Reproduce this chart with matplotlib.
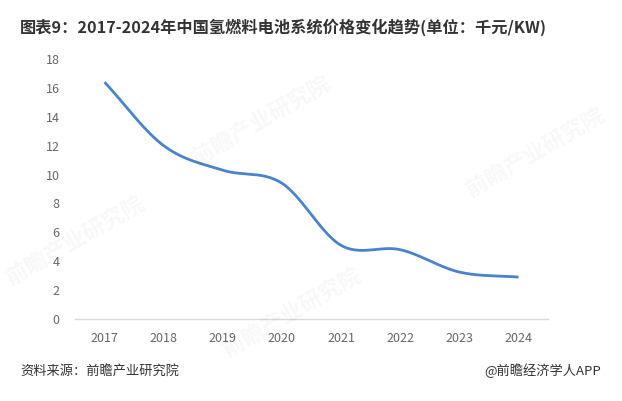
import matplotlib; matplotlib.use("Agg")
import matplotlib.pyplot as plt
import numpy as np

plt.rcParams['font.family'] = ['Noto Sans CJK SC', 'DejaVu Sans']

years = [2017, 2018, 2019, 2020, 2021, 2022, 2023, 2024]
price = [16.4, 12.0, 10.3, 9.4, 5.1, 4.8, 3.25, 2.9]   # 千元/KW
yticks = list(range(0, 19, 2))

LINE = "#4a83cc"; GRAYTXT = "#666666"; DARK = "#333333"


def smooth(x, y, n=30):
    # catmull-rom through the data points, just for drawing the curve
    x = np.asarray(x, float); y = np.asarray(y, float)
    px = np.concatenate([[2*x[0]-x[1]], x, [2*x[-1]-x[-2]]])
    py = np.concatenate([[2*y[0]-y[1]], y, [2*y[-1]-y[-2]]])
    xs, ys = [], []
    t = np.linspace(0, 1, n, endpoint=False)
    for i in range(1, len(px)-2):
        for P, out in ((px, xs), (py, ys)):
            p0, p1, p2, p3 = P[i-1], P[i], P[i+1], P[i+2]
            out.extend(0.5*((2*p1) + (-p0+p2)*t + (2*p0-5*p1+4*p2-p3)*t**2 + (-p0+3*p1-3*p2+p3)*t**3))
    xs.append(x[-1]); ys.append(y[-1])
    return np.array(xs), np.array(ys)


fig = plt.figure(figsize=(6.22, 4.01), dpi=100)
fig.patch.set_facecolor("white")
ax = fig.add_axes([75/622, 82/401, 473/622, 260/401])

sx, sy = smooth(years, price)
ax.plot(sx, sy, color=LINE, lw=2.0, solid_capstyle="butt")

ax.set_xlim(2016.5, 2024.5)
ax.set_ylim(0, 18)
ax.set_xticks(years)
ax.set_xticklabels([str(y) for y in years], fontsize=9, color=GRAYTXT)
ax.set_yticks(yticks)
ax.set_yticklabels([str(v) for v in yticks], fontsize=9, color=GRAYTXT)
ax.tick_params(axis="both", length=0)
ax.tick_params(axis="y", pad=11)
ax.tick_params(axis="x", pad=9)
for s in ["top", "right", "left"]:
    ax.spines[s].set_visible(False)
ax.spines["bottom"].set_color("#d9d9d9")
ax.spines["bottom"].set_linewidth(1.0)

# faint watermarks
for (wx, wy) in [(0.42, 0.70), (0.12, 0.40), (0.47, 0.22), (0.86, 0.62)]:
    fig.text(wx, wy, "前瞻产业研究院", fontsize=16, color="#000000", alpha=0.03,
             rotation=30, ha="center", va="center", fontweight="bold")

fig.text(20/622, 1-27/401, "图表9：2017-2024年中国氢燃料电池系统价格变化趋势(单位：千元/KW)",
         fontsize=11.7, fontweight="bold", color=DARK, ha="left", va="center")
fig.text(20/622, 1-371/401, "资料来源：前瞻产业研究院", fontsize=9.5, color=DARK, ha="left", va="center")
fig.text(601/622, 1-371/401, "@前瞻经济学人APP", fontsize=9.5, color=DARK, ha="right", va="center")

fig.savefig("out.png", dpi=100, facecolor="white")
